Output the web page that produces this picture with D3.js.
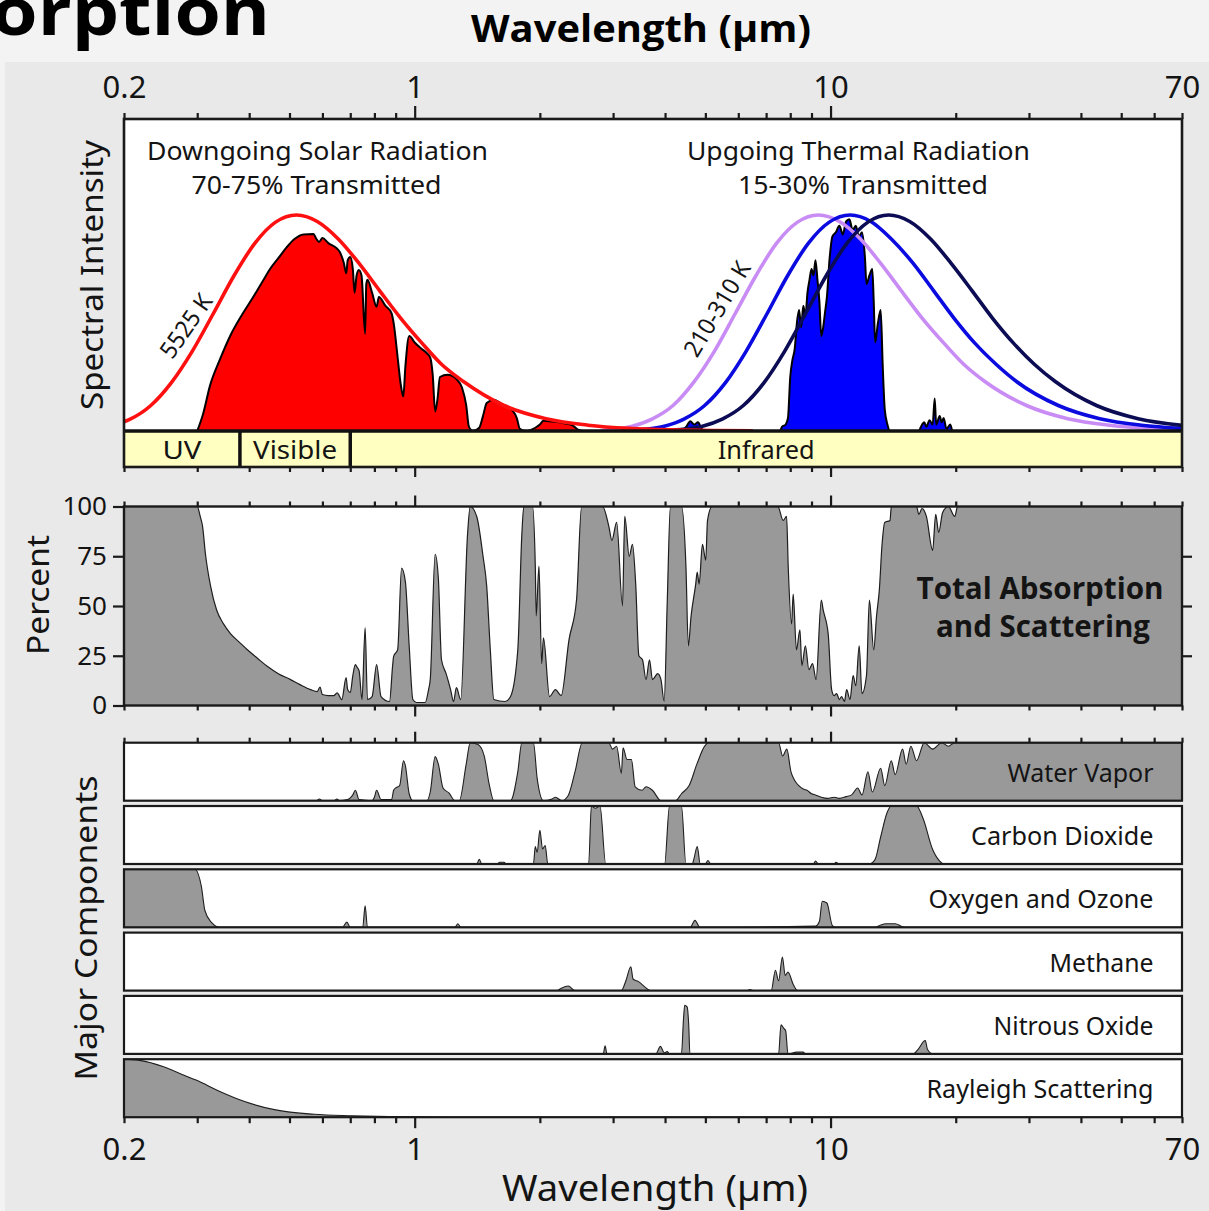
<!DOCTYPE html>
<html><head><meta charset="utf-8">
<script src="https://cdn.jsdelivr.net/npm/d3@7"></script>
<style>
html,body{margin:0;padding:0;background:#f3f3f3;}
svg{display:block;}
</style></head><body>
<svg id="chart" width="1209" height="1211"></svg>
<script>
// ---------------- DATA ----------------
const minorTicks = [0.2,0.3,0.4,0.5,0.6,0.7,0.8,0.9,2,3,4,5,6,7,8,9,20,30,40,50,60,70];
const majorTicks = [1,10];
const labelTicks = [0.2,1,10,70];
const percentTicks = [0,25,50,75,100];

const bands = [
  {name:"UV", from:0.2, to:0.38},
  {name:"Visible", from:0.38, to:0.7},
  {name:"Infrared", from:0.7, to:70}
];

// blackbody curves (normalised spectral intensity, 0-100), [wavelength µm, value]
const bb5525 = [[0.2,4.3],[0.207,5.5],[0.232,11.8],[0.26,22.4],[0.292,37],[0.328,54.4],[0.368,72],[0.413,87],[0.463,96.7],[0.52,100],[0.583,97],[0.655,88.9],[0.735,77.6],[0.824,64.9],[0.925,52.3],[1.04,40.8],[1.16,30.9],[1.31,22.9],[1.64,11.8],[2.07,5.7],[2.61,2.7],[3.28,1.2],[4.13,0.5],[5.2,0.2],[6.5,0.1]];
const bb310 = [[2.8,0.1],[2.96,0.7],[3.32,2.1],[3.72,5.5],[4.18,11.8],[4.68,22.4],[5.26,37],[5.9,54.4],[6.62,72],[7.42,87],[8.33,96.7],[9.35,100],[10.5,97],[11.8,88.9],[13.2,77.6],[14.8,64.9],[16.6,52.3],[18.7,40.8],[20.9,30.9],[23.5,22.9],[29.6,11.8],[37.2,5.7],[46.9,2.7],[59,1.2],[70,0.7]];
const bb260 = [[3.14,0.2],[3.53,0.7],[3.96,2.1],[4.44,5.5],[4.98,11.8],[5.59,22.4],[6.27,37],[7.04,54.4],[7.89,72],[8.85,87],[9.93,96.7],[11.15,100],[12.5,97],[14.0,88.9],[15.8,77.6],[17.7,64.9],[19.8,52.3],[22.2,40.8],[25.0,30.9],[28.0,22.9],[35.3,11.8],[44.4,5.7],[55.9,2.7],[70,1.2]];
const bb210 = [[3.88,0.2],[4.36,0.7],[4.9,2.1],[5.49,5.5],[6.17,11.8],[6.92,22.4],[7.76,37],[8.71,54.4],[9.77,72],[10.96,87],[12.3,96.7],[13.8,100],[15.5,97],[17.4,88.9],[19.5,77.6],[21.9,64.9],[24.5,52.3],[27.5,40.8],[30.9,30.9],[34.7,22.9],[43.6,11.8],[54.9,5.7],[70,2.6]];

// transmitted radiation
const solarTransmitted = [[0.30,0],[0.31,8],[0.322,21],[0.34,33],[0.36,44],[0.385,54],[0.409,62],[0.43,69],[0.449,75],[0.47,80],[0.492,85],[0.515,89],[0.54,91],[0.571,91.2],[0.58,89],[0.589,87.5],[0.60,89.3],[0.62,87],[0.65,84.5],[0.66,83],[0.675,78],[0.685,73],[0.69,79],[0.70,80.5],[0.71,75],[0.717,64],[0.725,72],[0.734,74.5],[0.745,72],[0.76,45],[0.765,68],[0.77,70],[0.79,64],[0.81,57.5],[0.82,62],[0.85,58],[0.88,54.5],[0.89,50],[0.91,34],[0.925,22],[0.939,16],[0.95,30],[0.97,44],[1.0,41],[1.04,38],[1.07,36],[1.09,34],[1.105,26],[1.12,9],[1.135,15],[1.15,25],[1.2,26],[1.26,24],[1.3,20],[1.33,12],[1.35,2],[1.38,0],[1.43,1.5],[1.46,7],[1.49,13],[1.55,14.5],[1.62,12.5],[1.72,9.4],[1.76,6],[1.79,1],[1.85,0],[1.95,1.5],[2.0,3],[2.04,4.7],[2.1,4.5],[2.2,4.2],[2.3,3.5],[2.4,2.5],[2.48,0.5],[2.55,0],[3.4,0],[3.5,0.8],[3.7,1],[3.9,1],[4.1,0.5],[4.2,0]];
const thermalTransmitted = [[4.4,0],[4.5,2],[4.6,4.5],[4.7,3],[4.8,4],[4.9,1],[5.0,0],[7.55,0],[7.65,2],[7.8,3],[7.9,6],[8.0,25],[8.1,33],[8.2,38],[8.3,50],[8.4,56],[8.5,48],[8.6,58],[8.7,53],[8.8,64],[8.9,70],[9.0,75],[9.1,72],[9.2,79],[9.3,70],[9.4,60],[9.5,44],[9.6,48],[9.7,55],[9.8,62],[9.95,80],[10.1,90],[10.3,92],[10.5,95],[10.7,91],[10.9,97],[11.1,98],[11.3,93],[11.5,95],[11.7,90],[11.9,92],[12.1,80],[12.2,68],[12.4,72],[12.6,75],[12.7,60],[12.8,41],[13.0,50],[13.2,56],[13.35,30],[13.5,10],[13.7,3],[13.9,0],[16.3,0],[16.5,2],[16.8,4],[17.0,2],[17.3,5],[17.6,3],[17.8,15],[17.95,3],[18.3,7],[18.5,4],[18.7,6],[19.0,1],[19.4,3],[19.6,0]];

// total absorption and scattering (percent)
const totalAbsorption = [[0.2,100],[0.3,100],[0.305,95],[0.309,90],[0.314,76],[0.323,60],[0.334,48],[0.347,41],[0.361,36],[0.378,32],[0.396,28],[0.42,23.5],[0.442,19.7],[0.47,16],[0.503,13],[0.53,10.5],[0.562,8],[0.583,7],[0.592,9.3],[0.6,5.5],[0.62,5],[0.639,5],[0.651,6.3],[0.668,3],[0.684,14],[0.69,8],[0.7,6.5],[0.71,15],[0.72,20.5],[0.728,19],[0.735,17.5],[0.747,3],[0.76,39],[0.77,3],[0.79,4.5],[0.81,20.5],[0.83,4.5],[0.87,2],[0.885,20],[0.89,24.7],[0.91,28],[0.93,69],[0.95,62],[0.97,30],[0.99,3],[1.01,1.5],[1.06,1.5],[1.08,8],[1.09,13],[1.12,76],[1.14,64],[1.16,23],[1.19,16],[1.22,8],[1.24,2],[1.26,9],[1.29,3],[1.34,86],[1.36,100],[1.41,95],[1.46,75],[1.49,60],[1.52,28],[1.55,3],[1.65,2],[1.70,4.5],[1.77,28],[1.81,86],[1.83,100],[1.92,100],[1.95,70],[1.96,45],[1.99,70],[2.02,21],[2.04,34],[2.11,4.5],[2.18,8],[2.25,5],[2.35,33],[2.45,53],[2.52,100],[2.83,100],[2.93,90],[2.98,83],[3.06,92],[3.16,50],[3.2,95],[3.28,75],[3.34,81],[3.40,61],[3.46,25],[3.53,23],[3.6,13],[3.67,23],[3.73,13],[3.84,16],[3.91,13],[3.98,2],[4.05,53],[4.12,100],[4.38,100],[4.49,70],[4.55,30],[4.62,45],[4.74,61],[4.78,67],[4.83,61],[4.92,81],[5.01,73],[5.06,93],[5.19,100],[7.47,100],[7.69,93],[7.84,95],[7.91,70],[8.06,41],[8.13,56],[8.28,28],[8.44,38],[8.53,20],[8.7,30],[8.87,18],[9.05,21],[9.23,13],[9.5,53],[9.6,48],[9.87,36],[10.06,8],[10.2,5],[10.34,6],[10.5,3],[10.63,4.5],[10.8,2],[10.93,8],[11.14,3],[11.33,15],[11.5,10],[11.72,30],[11.9,6],[12.2,15],[12.4,53],[12.7,28],[12.9,45],[13.1,58],[13.3,81],[13.5,92],[13.9,93],[14.0,100],[16.1,100],[16.3,96],[16.6,99],[17.0,95],[17.6,78],[17.9,96],[18.2,87],[18.6,97],[19.2,100],[19.9,95],[20.2,100],[70,100]];

// major components (fraction 0-1 of strip height)
const componentNames = ["Water Vapor","Carbon Dioxide","Oxygen and Ozone","Methane","Nitrous Oxide","Rayleigh Scattering"];
const waterVapor = [[0.2,0],[0.58,0],[0.59,0.03],[0.6,0],[0.64,0],[0.65,0.03],[0.66,0],[0.69,0.02],[0.70,0.05],[0.71,0.1],[0.72,0.18],[0.735,0.02],[0.79,0],[0.80,0.06],[0.81,0.18],[0.83,0.02],[0.88,0.02],[0.89,0.18],[0.90,0.22],[0.92,0.26],[0.94,0.69],[0.95,0.6],[0.97,0.12],[0.99,0],[1.07,0],[1.09,0.15],[1.12,0.76],[1.14,0.63],[1.17,0.22],[1.21,0.13],[1.25,0],[1.28,0],[1.33,0.63],[1.36,1],[1.42,0.97],[1.47,0.77],[1.51,0.29],[1.55,0],[1.70,0],[1.77,0.5],[1.81,1],[1.93,1],[1.97,0.39],[2.04,0],[2.14,0.03],[2.18,0.06],[2.26,0],[2.34,0.09],[2.43,0.5],[2.53,1],[2.93,1],[2.99,0.89],[3.06,0.94],[3.14,0.47],[3.17,0.91],[3.24,0.71],[3.32,0.71],[3.39,0.24],[3.52,0.18],[3.6,0.24],[3.73,0.18],[3.91,0],[4.24,0],[4.38,0.12],[4.57,0.26],[4.77,0.63],[4.98,0.94],[5.08,1],[7.5,1],[7.67,0.77],[7.85,0.89],[8.03,0.5],[8.2,0.35],[8.39,0.26],[8.6,0.2],[8.78,0.18],[9.0,0.12],[9.2,0.1],[9.5,0.06],[9.85,0.04],[10.2,0.06],[10.5,0.04],[10.9,0.07],[11.24,0.1],[11.62,0.22],[11.9,0.1],[12.3,0.5],[12.6,0.15],[13.2,0.56],[13.5,0.26],[14.0,0.69],[14.3,0.45],[14.9,0.89],[15.2,0.63],[15.6,0.94],[16.1,0.69],[16.8,1],[17.6,0.89],[18.5,1],[19.2,0.94],[19.9,1],[70,1]];
const carbonDioxide = [[0.2,0],[1.41,0],[1.43,0.08],[1.45,0],[1.58,0],[1.6,0.03],[1.64,0.03],[1.66,0],[1.93,0],[1.95,0.3],[1.97,0.2],[2.0,0.58],[2.03,0.26],[2.06,0.32],[2.09,0],[2.62,0],[2.66,1],[2.72,0.96],[2.79,1],[2.88,0],[3.99,0],[4.1,1],[4.38,1],[4.49,0],[4.65,0],[4.69,0.08],[4.78,0.3],[4.86,0],[5.0,0],[5.07,0.06],[5.15,0],[9.1,0],[9.2,0.05],[9.35,0],[10.2,0],[10.3,0.03],[10.5,0],[12.4,0],[12.8,0.08],[13.2,0.47],[13.7,0.9],[14.0,1],[16.1,1],[16.7,0.78],[17.6,0.25],[18.3,0.05],[18.7,0],[70,0]];
const oxygenOzone = [[0.2,1],[0.296,1],[0.307,0.7],[0.313,0.29],[0.325,0.08],[0.335,0.01],[0.345,0],[0.67,0],[0.687,0.09],[0.70,0],[0.75,0],[0.76,0.37],[0.77,0],[1.25,0],[1.27,0.06],[1.29,0],[4.6,0],[4.72,0.12],[4.85,0],[9.2,0.02],[9.4,0.1],[9.55,0.45],[9.8,0.42],[10.1,0.03],[10.3,0],[12.8,0],[13.2,0.04],[13.6,0.06],[14.3,0.06],[14.9,0.01],[15.2,0],[70,0]];
const methane = [[0.2,0],[2.2,0],[2.25,0.04],[2.34,0.08],[2.43,0],[3.14,0],[3.22,0.17],[3.31,0.41],[3.35,0.2],[3.46,0.15],[3.58,0.06],[3.69,0],[6.3,0],[6.4,0.02],[6.5,0],[7.2,0],[7.37,0.35],[7.5,0.17],[7.66,0.58],[7.78,0.26],[7.9,0.32],[8.14,0.1],[8.33,0],[70,0]];
const nitrousOxide = [[0.2,0],[2.84,0],[2.87,0.14],[2.9,0],[3.8,0],[3.9,0.13],[3.98,0.02],[4.05,0.04],[4.1,0],[4.38,0],[4.43,0.6],[4.46,0.84],[4.52,0.81],[4.56,0.5],[4.59,0],[7.5,0],[7.6,0.5],[7.72,0.44],[7.8,0.4],[7.9,0],[8.3,0.03],[8.6,0.03],[8.7,0],[15.8,0],[16.2,0.07],[16.9,0.23],[17.1,0.08],[17.6,0],[70,0]];
const rayleigh = [[0.2,1],[0.218,0.98],[0.249,0.87],[0.275,0.74],[0.298,0.64],[0.341,0.44],[0.39,0.27],[0.46,0.13],[0.574,0.05],[0.707,0.025],[0.87,0.01],[1.0,0.005],[1.2,0],[70,0]];
const componentSeries = [waterVapor, carbonDioxide, oxygenOzone, methane, nitrousOxide, rayleigh];

// ---------------- LAYOUT ----------------
const FONT = "'Noto Sans','Open Sans',sans-serif";
const BOLD = "'Open Sans','Noto Sans',sans-serif";
const INK = "#141414";
const L = 124, R = 1182;
const topPanel = {top:119, base:431, barBottom:467};
const midPanel = {top:506.5, bottom:705.5};
const strips = {top:742.7, step:63.3, h:58};
const stripLabelW = [146,182.5,225,104,160,227];

const svg = d3.select("#chart");
const defs = svg.append("defs");

svg.append("rect").attr("width",1209).attr("height",1211).attr("fill","#f3f3f3");
svg.append("rect").attr("x",5).attr("y",62).attr("width",1204).attr("height",1149).attr("fill","#e9e9e9");

// slide title fragments
svg.append("text").attr("x",-145).attr("y",35).attr("font-family",BOLD).attr("font-weight",700)
  .attr("font-size",66).attr("textLength",415).attr("lengthAdjust","spacingAndGlyphs").attr("fill","#000").text("Absorption");
svg.append("text").attr("x",641).attr("y",42).attr("text-anchor","middle").attr("font-family",BOLD).attr("font-weight",700)
  .attr("font-size",37).attr("textLength",340).attr("lengthAdjust","spacingAndGlyphs").attr("fill","#000").text("Wavelength (µm)");

const x = d3.scaleLog().domain([0.2,70]).range([L,R]);
const yTop = d3.scaleLinear().domain([0,100]).range([topPanel.base, topPanel.base-216]);
const yMid = d3.scaleLinear().domain([0,100]).range([midPanel.bottom, midPanel.top]);

// ---------- top panel ----------
svg.append("rect").attr("x",L).attr("y",topPanel.top).attr("width",R-L).attr("height",topPanel.base-topPanel.top).attr("fill","#fff");
defs.append("clipPath").attr("id","clipTop").append("rect").attr("x",L).attr("y",topPanel.top).attr("width",R-L).attr("height",topPanel.base-topPanel.top);
const gTop = svg.append("g").attr("clip-path","url(#clipTop)");
const areaTop = d3.area().x(d=>x(d[0])).y0(yTop(0)).y1(d=>yTop(d[1])).curve(d3.curveMonotoneX);
const lineTop = d3.line().x(d=>x(d[0])).y(d=>yTop(d[1])).curve(d3.curveMonotoneX);
gTop.append("path").datum(solarTransmitted).attr("d",areaTop).attr("fill","#ff0000").attr("stroke","#000").attr("stroke-width",2).attr("stroke-linejoin","round");
gTop.append("path").datum(thermalTransmitted).attr("d",areaTop).attr("fill","#0000ff").attr("stroke","#000").attr("stroke-width",2).attr("stroke-linejoin","round");
[[bb310,"#c98cf5"],[bb260,"#0b0be0"],[bb210,"#0c0c55"],[bb5525,"#ff1010"]].forEach(([d,c])=>{
  gTop.append("path").datum(d).attr("d",lineTop).attr("fill","none").attr("stroke",c).attr("stroke-width",3.6);
});

svg.append("text").attr("transform","translate(186,326) rotate(-55)").attr("text-anchor","middle").attr("dy","0.35em")
  .attr("font-family",FONT).attr("font-size",24).attr("textLength",72).attr("lengthAdjust","spacingAndGlyphs").attr("fill",INK).text("5525 K");
svg.append("text").attr("transform","translate(717,309) rotate(-59)").attr("text-anchor","middle").attr("dy","0.35em")
  .attr("font-family",FONT).attr("font-size",24).attr("textLength",106).attr("lengthAdjust","spacingAndGlyphs").attr("fill",INK).text("210-310 K");

function label(txt, cx, by, w, size, opts={}) {
  return svg.append("text").attr("x",cx).attr("y",by).attr("text-anchor",opts.anchor||"middle")
    .attr("font-family",opts.bold?BOLD:FONT).attr("font-weight",opts.bold?700:400)
    .attr("font-size",size).attr("textLength",w).attr("lengthAdjust","spacingAndGlyphs").attr("fill",INK).text(txt);
}
label("Downgoing Solar Radiation",317.5,160,341,24.5);
label("70-75% Transmitted",316.5,194,250,24.5);
label("Upgoing Thermal Radiation",858.5,160,343,24.5);
label("15-30% Transmitted",863,194,250,24.5);

// band bar
const gBand = svg.append("g");
gBand.selectAll("rect").data(bands).join("rect")
  .attr("x",d=>x(d.from)).attr("y",topPanel.base).attr("width",d=>x(d.to)-x(d.from)).attr("height",topPanel.barBottom-topPanel.base)
  .attr("fill","#ffffc2");
gBand.selectAll("line").data(bands.slice(1)).join("line")
  .attr("x1",d=>x(d.from)).attr("x2",d=>x(d.from)).attr("y1",topPanel.base).attr("y2",topPanel.barBottom)
  .attr("stroke","#111").attr("stroke-width",3.5);
const bandW = {"UV":39,"Visible":84,"Infrared":97};
gBand.selectAll("text").data(bands).join("text")
  .attr("x",d=>x(Math.sqrt(d.from*d.to))).attr("y",458.5).attr("text-anchor","middle")
  .attr("font-family",FONT).attr("font-size",26).attr("fill",INK)
  .attr("textLength",d=>bandW[d.name]).attr("lengthAdjust","spacingAndGlyphs").text(d=>d.name);
svg.append("line").attr("x1",L).attr("x2",R).attr("y1",topPanel.base).attr("y2",topPanel.base).attr("stroke","#111").attr("stroke-width",3.5);
svg.append("rect").attr("x",L).attr("y",topPanel.top).attr("width",R-L).attr("height",topPanel.barBottom-topPanel.top)
  .attr("fill","none").attr("stroke","#1a1a1a").attr("stroke-width",2.6);

// ---------- axes helpers ----------
function xTicks(yPos, dir, minorLen, majorLen) {
  const ax = dir==="top" ? d3.axisTop : d3.axisBottom;
  [[minorTicks,minorLen],[majorTicks,majorLen]].forEach(([vals,len])=>{
    const g = svg.append("g").attr("transform",`translate(0,${yPos})`)
      .call(ax(x).tickValues(vals).tickSize(len).tickSizeOuter(0).tickFormat(""));
    g.select(".domain").remove();
    g.selectAll("line").attr("stroke","#1a1a1a").attr("stroke-width",2.2);
  });
}
function xLabels(yPos, dir, pad) {
  const ax = dir==="top" ? d3.axisTop : d3.axisBottom;
  const g = svg.append("g").attr("transform",`translate(0,${yPos})`)
    .call(ax(x).tickValues(labelTicks).tickSize(0).tickPadding(pad).tickFormat(d=>d<1?d.toFixed(1):String(d)));
  g.select(".domain").remove();
  g.selectAll("text").attr("font-family",FONT).attr("font-size",31).attr("fill",INK);
}
xTicks(topPanel.top,"top",6,13);
xTicks(topPanel.barBottom,"bottom",5,10);
xLabels(topPanel.top,"top",21);

// ---------- middle panel ----------
svg.append("rect").attr("x",L).attr("y",midPanel.top).attr("width",R-L).attr("height",midPanel.bottom-midPanel.top).attr("fill","#fff");
defs.append("clipPath").attr("id","clipMid").append("rect").attr("x",L).attr("y",midPanel.top).attr("width",R-L).attr("height",midPanel.bottom-midPanel.top);
const gMid = svg.append("g").attr("clip-path","url(#clipMid)");
gMid.append("path").datum(totalAbsorption)
  .attr("d",d3.area().x(d=>x(d[0])).y0(yMid(0)).y1(d=>yMid(d[1])).curve(d3.curveMonotoneX))
  .attr("fill","#999999");
gMid.append("path").datum(totalAbsorption)
  .attr("d",d3.line().x(d=>x(d[0])).y(d=>yMid(d[1])).curve(d3.curveMonotoneX))
  .attr("fill","none").attr("stroke","#1e1e1e").attr("stroke-width",1.2);
svg.append("rect").attr("x",L).attr("y",midPanel.top).attr("width",R-L).attr("height",midPanel.bottom-midPanel.top)
  .attr("fill","none").attr("stroke","#1a1a1a").attr("stroke-width",2.4);
label("Total Absorption",1040,599,247,30,{bold:true});
label("and Scattering",1043,637,214,30,{bold:true});

const gY = svg.append("g").attr("transform",`translate(${L},0)`)
  .call(d3.axisLeft(yMid).tickValues(percentTicks).tickSize(11).tickPadding(6).tickSizeOuter(0));
gY.select(".domain").remove();
gY.selectAll("line").attr("stroke","#1a1a1a").attr("stroke-width",2.2);
gY.selectAll("text").attr("font-family",FONT).attr("font-size",26).attr("fill",INK);
const gY2 = svg.append("g").attr("transform",`translate(${R},0)`)
  .call(d3.axisRight(yMid).tickValues([25,50,75]).tickSize(10).tickFormat("").tickSizeOuter(0));
gY2.select(".domain").remove();
gY2.selectAll("line").attr("stroke","#1a1a1a").attr("stroke-width",2.2);
xTicks(midPanel.top,"top",5,11);
xTicks(midPanel.bottom,"bottom",5,11);

// ---------- major components ----------
componentSeries.forEach((series,i)=>{
  const t = strips.top + i*strips.step, b = t + strips.h;
  const ys = d3.scaleLinear().domain([0,1]).range([b,t]);
  svg.append("rect").attr("x",L).attr("y",t).attr("width",R-L).attr("height",strips.h).attr("fill","#fff");
  const cid = "clipS"+i;
  defs.append("clipPath").attr("id",cid).append("rect").attr("x",L).attr("y",t).attr("width",R-L).attr("height",strips.h);
  const g = svg.append("g").attr("clip-path",`url(#${cid})`);
  g.append("path").datum(series)
    .attr("d",d3.area().x(d=>x(d[0])).y0(ys(0)).y1(d=>ys(d[1])).curve(d3.curveMonotoneX))
    .attr("fill","#999999");
  g.append("path").datum(series)
    .attr("d",d3.line().x(d=>x(d[0])).y(d=>ys(d[1])).curve(d3.curveMonotoneX))
    .attr("fill","none").attr("stroke","#1e1e1e").attr("stroke-width",1.1);
  svg.append("rect").attr("x",L).attr("y",t).attr("width",R-L).attr("height",strips.h)
    .attr("fill","none").attr("stroke","#1a1a1a").attr("stroke-width",2.2);
  label(componentNames[i],1153.5,t+39,stripLabelW[i],26,{anchor:"end"});
});
const stripsBottom = strips.top + 5*strips.step + strips.h;
xTicks(strips.top,"top",5,11);
xTicks(stripsBottom,"bottom",6,11);
xLabels(stripsBottom,"bottom",21);

// ---------- axis titles ----------
function vtitle(txt, bx, cy, w, size) {
  svg.append("text").attr("transform",`translate(${bx},${cy}) rotate(-90)`).attr("text-anchor","middle")
    .attr("font-family",FONT).attr("font-size",size).attr("textLength",w).attr("lengthAdjust","spacingAndGlyphs")
    .attr("fill",INK).text(txt);
}
vtitle("Spectral Intensity",103,275,270,30);
vtitle("Percent",49,595,120,30);
vtitle("Major Components",97,928,305,31);
label("Wavelength (µm)",655,1201,306,37);
</script>
</body></html>
